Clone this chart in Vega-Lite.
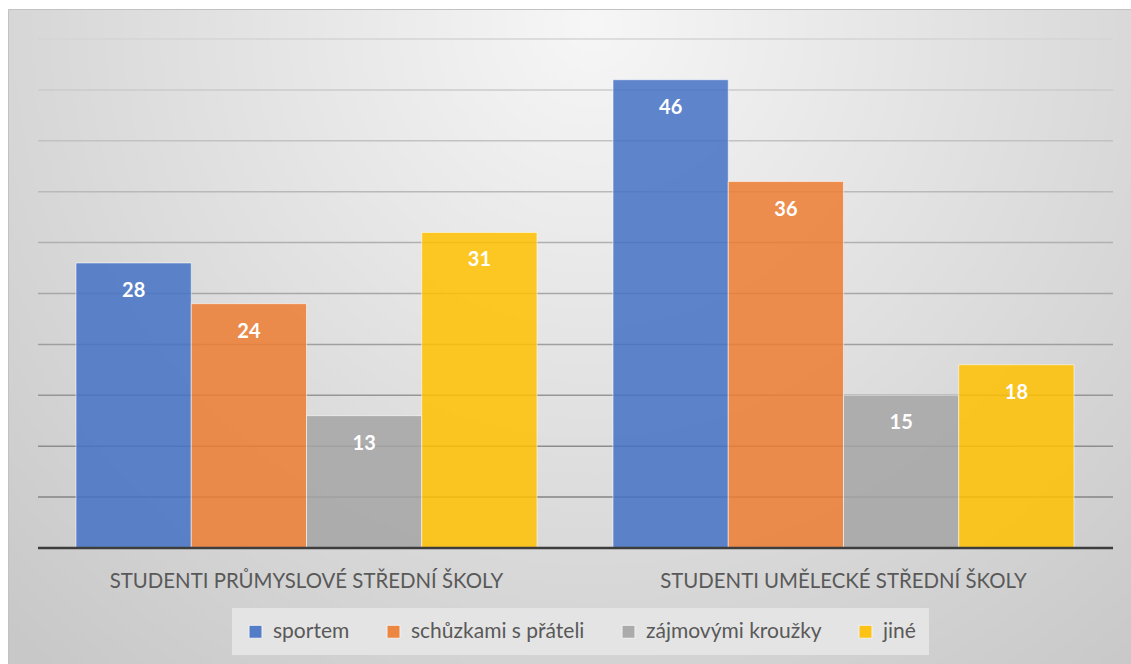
{
  "$schema": "https://vega.github.io/schema/vega-lite/v6.json",
  "width": 1123,
  "height": 655,
  "padding": {"left": 8, "top": 9, "right": 0, "bottom": 0},
  "autosize": {"type": "none"},
  "background": "white",
  "view": {
    "fill": {
      "gradient": "radial",
      "x1": 0.52, "y1": 0.22, "r1": 0,
      "x2": 0.52, "y2": 0.22, "r2": 0.75,
      "stops": [
        {"offset": 0, "color": "#f6f6f6"},
        {"offset": 1, "color": "#c8c8c8"}
      ]
    },
    "stroke": "#c2c2c2",
    "strokeWidth": 1
  },
  "datasets": {
    "bars": [
      {"group": "STUDENTI PRŮMYSLOVÉ STŘEDNÍ ŠKOLY", "series": "sportem", "value": 28},
      {"group": "STUDENTI PRŮMYSLOVÉ STŘEDNÍ ŠKOLY", "series": "schůzkami s přáteli", "value": 24},
      {"group": "STUDENTI PRŮMYSLOVÉ STŘEDNÍ ŠKOLY", "series": "zájmovými kroužky", "value": 13},
      {"group": "STUDENTI PRŮMYSLOVÉ STŘEDNÍ ŠKOLY", "series": "jiné", "value": 31},
      {"group": "STUDENTI UMĚLECKÉ STŘEDNÍ ŠKOLY", "series": "sportem", "value": 46},
      {"group": "STUDENTI UMĚLECKÉ STŘEDNÍ ŠKOLY", "series": "schůzkami s přáteli", "value": 36},
      {"group": "STUDENTI UMĚLECKÉ STŘEDNÍ ŠKOLY", "series": "zájmovými kroužky", "value": 15},
      {"group": "STUDENTI UMĚLECKÉ STŘEDNÍ ŠKOLY", "series": "jiné", "value": 18}
    ],
    "grid": [
      {"v": 5, "a": "STUDENTI PRŮMYSLOVÉ STŘEDNÍ ŠKOLY", "b": "STUDENTI UMĚLECKÉ STŘEDNÍ ŠKOLY"},
      {"v": 10, "a": "STUDENTI PRŮMYSLOVÉ STŘEDNÍ ŠKOLY", "b": "STUDENTI UMĚLECKÉ STŘEDNÍ ŠKOLY"},
      {"v": 15, "a": "STUDENTI PRŮMYSLOVÉ STŘEDNÍ ŠKOLY", "b": "STUDENTI UMĚLECKÉ STŘEDNÍ ŠKOLY"},
      {"v": 20, "a": "STUDENTI PRŮMYSLOVÉ STŘEDNÍ ŠKOLY", "b": "STUDENTI UMĚLECKÉ STŘEDNÍ ŠKOLY"},
      {"v": 25, "a": "STUDENTI PRŮMYSLOVÉ STŘEDNÍ ŠKOLY", "b": "STUDENTI UMĚLECKÉ STŘEDNÍ ŠKOLY"},
      {"v": 30, "a": "STUDENTI PRŮMYSLOVÉ STŘEDNÍ ŠKOLY", "b": "STUDENTI UMĚLECKÉ STŘEDNÍ ŠKOLY"},
      {"v": 35, "a": "STUDENTI PRŮMYSLOVÉ STŘEDNÍ ŠKOLY", "b": "STUDENTI UMĚLECKÉ STŘEDNÍ ŠKOLY"},
      {"v": 40, "a": "STUDENTI PRŮMYSLOVÉ STŘEDNÍ ŠKOLY", "b": "STUDENTI UMĚLECKÉ STŘEDNÍ ŠKOLY"},
      {"v": 45, "a": "STUDENTI PRŮMYSLOVÉ STŘEDNÍ ŠKOLY", "b": "STUDENTI UMĚLECKÉ STŘEDNÍ ŠKOLY"},
      {"v": 50, "a": "STUDENTI PRŮMYSLOVÉ STŘEDNÍ ŠKOLY", "b": "STUDENTI UMĚLECKÉ STŘEDNÍ ŠKOLY"}
    ],
    "base": [
      {"v": 0, "a": "STUDENTI PRŮMYSLOVÉ STŘEDNÍ ŠKOLY", "b": "STUDENTI UMĚLECKÉ STŘEDNÍ ŠKOLY"}
    ],
    "groups": [
      {"group": "STUDENTI PRŮMYSLOVÉ STŘEDNÍ ŠKOLY"},
      {"group": "STUDENTI UMĚLECKÉ STŘEDNÍ ŠKOLY"}
    ]
  },
  "layer": [
    {
      "data": {"name": "grid"},
      "mark": {"type": "rule", "strokeWidth": 1.5},
      "encoding": {
        "x": {
          "field": "a", "type": "nominal", "bandPosition": -0.0824, "axis": null,
          "scale": {
            "domain": ["STUDENTI PRŮMYSLOVÉ STŘEDNÍ ŠKOLY", "STUDENTI UMĚLECKÉ STŘEDNÍ ŠKOLY"],
            "paddingInner": 0.14153, "paddingOuter": 0.11639, "align": 0.544
          }
        },
        "x2": {"field": "b", "bandPosition": 1.0846},
        "y": {
          "field": "v", "type": "quantitative", "axis": null,
          "scale": {"domain": [-11.395, 52.947], "nice": false, "zero": false}
        },
        "stroke": {
          "field": "v", "type": "quantitative", "legend": null,
          "scale": {"domain": [5, 50], "range": ["#858585", "#d4d4d4"]}
        }
      }
    },
    {
      "data": {"name": "bars"},
      "mark": {"type": "bar", "fillOpacity": 0.85, "stroke": "white", "strokeOpacity": 0.55, "strokeWidth": 1},
      "encoding": {
        "x": {"field": "group", "type": "nominal", "axis": null},
        "xOffset": {
          "field": "series", "type": "nominal",
          "sort": ["sportem", "schůzkami s přáteli", "zájmovými kroužky", "jiné"],
          "scale": {"paddingInner": 0, "paddingOuter": 0}
        },
        "y": {"field": "value", "type": "quantitative", "axis": null},
        "y2": {"datum": 0},
        "fill": {
          "field": "series", "type": "nominal",
          "scale": {
            "domain": ["sportem", "schůzkami s přáteli", "zájmovými kroužky", "jiné"],
            "range": ["#4472C4", "#ED7D31", "#A5A5A5", "#FFC000"]
          },
          "legend": {
            "orient": "none", "legendX": 224, "legendY": 599,
            "direction": "horizontal", "columns": 4, "title": null,
            "fillColor": "#e4e4e4", "padding": 13,
            "symbolType": "square", "symbolSize": 169, "symbolOpacity": 0.9,
            "symbolStrokeColor": "#f4f4f4", "symbolStrokeWidth": 1,
            "labelFont": "Lato", "labelFontSize": 21, "labelColor": "#595959",
            "labelLimit": 0,
            "labelOffset": 7, "columnPadding": 33
          }
        }
      }
    },
    {
      "data": {"name": "base"},
      "mark": {"type": "rule", "strokeWidth": 2.6, "color": "#3d3d3d"},
      "encoding": {
        "x": {"field": "a", "type": "nominal", "bandPosition": -0.0824, "axis": null},
        "x2": {"field": "b", "bandPosition": 1.0846},
        "y": {"field": "v", "type": "quantitative", "axis": null}
      }
    },
    {
      "data": {"name": "bars"},
      "mark": {"type": "text", "dy": 28, "baseline": "middle", "align": "center", "font": "Lato", "fontSize": 20, "fontWeight": "bold", "color": "white"},
      "encoding": {
        "x": {"field": "group", "type": "nominal", "axis": null},
        "xOffset": {"field": "series", "type": "nominal", "sort": ["sportem", "schůzkami s přáteli", "zájmovými kroužky", "jiné"]},
        "y": {"field": "value", "type": "quantitative", "axis": null},
        "text": {"field": "value", "type": "quantitative"}
      }
    },
    {
      "data": {"name": "groups"},
      "mark": {"type": "text", "baseline": "middle", "align": "center", "font": "Lato", "fontSize": 20.4, "color": "#595959"},
      "encoding": {
        "x": {"field": "group", "type": "nominal", "axis": null},
        "y": {"datum": -3.3},
        "text": {"field": "group", "type": "nominal"}
      }
    }
  ]
}
